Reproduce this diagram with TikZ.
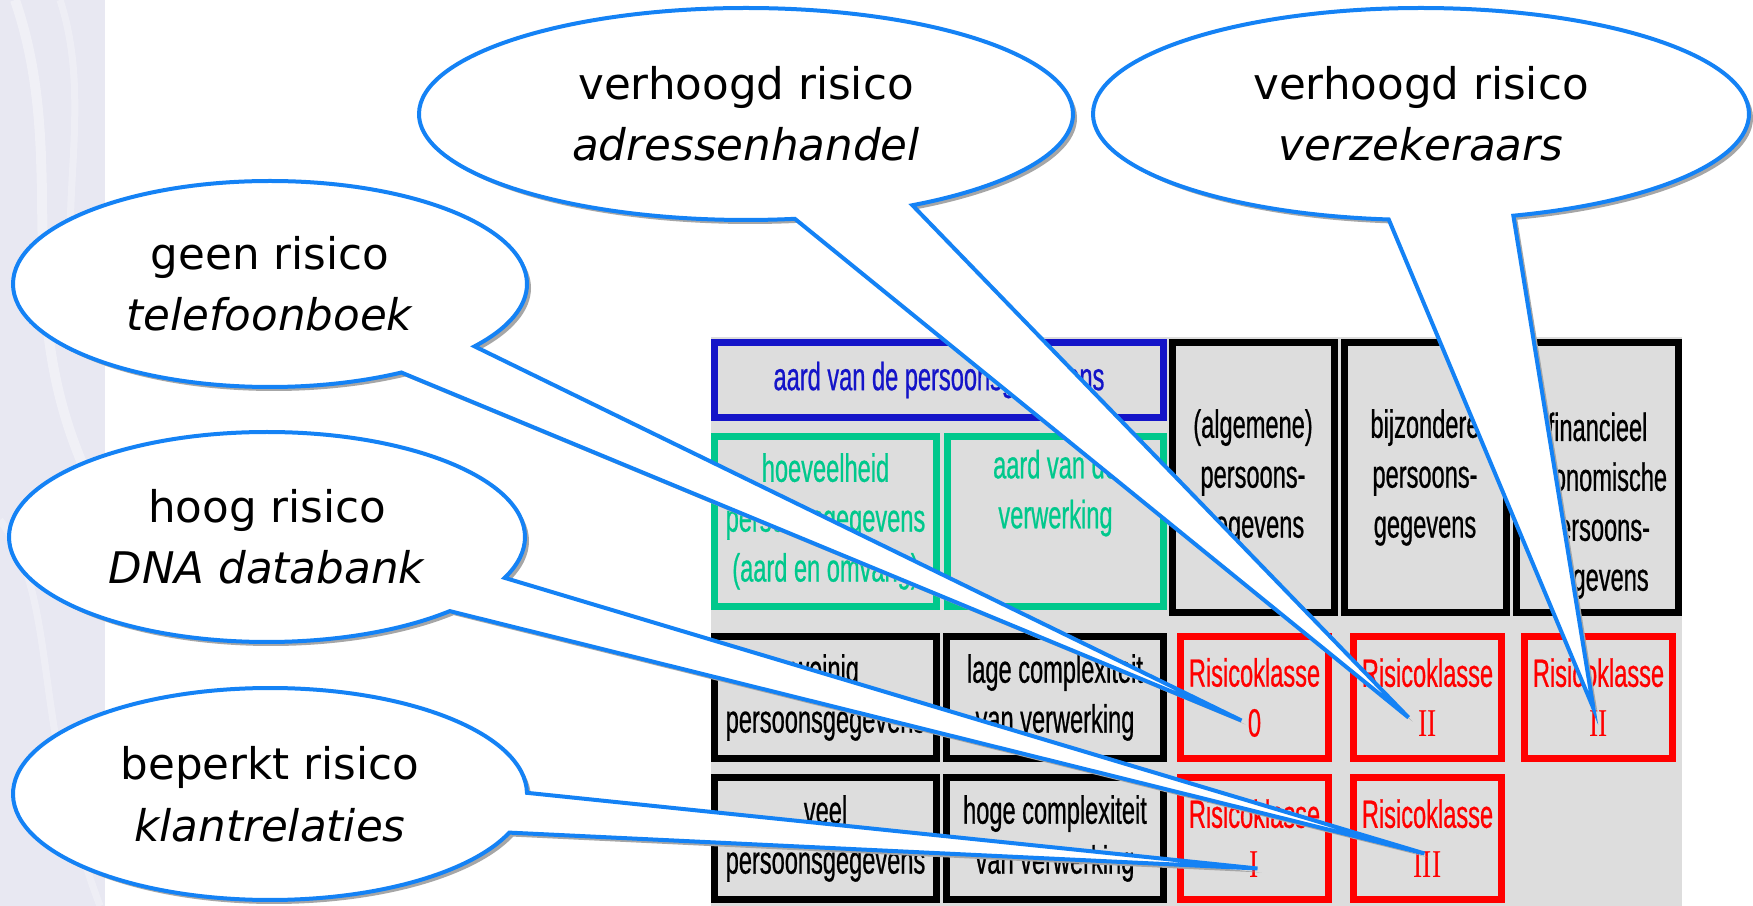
\documentclass[tikz,border=0pt]{standalone}
\usepackage{fontspec}
\usepackage{xcolor}
\usetikzlibrary{positioning, calc, shapes.callouts, shadows}
\newfontfamily\bubblefont{DejaVu Sans}
\newfontfamily\cellfont[FakeStretch=0.6, FakeBold=0.6]{Liberation Sans}
\newfontfamily\numfont[FakeStretch=0.7]{Liberation Serif}
\definecolor{bubble-blue}{RGB}{20,130,245}
\definecolor{table-grey}{RGB}{221,221,221}
\definecolor{head-blue}{RGB}{20,20,200}
\definecolor{head-green}{RGB}{0,200,140}
\definecolor{strip-grey}{RGB}{232,232,242}

\begin{document}
\begin{tikzpicture}[x=0.1mm, y=-0.1mm]
				\tikzset{cell/.style={draw, line width=0.7mm, fill=table-grey, align=center, inner sep=0pt, font=\cellfont\fontsize{11.2}{14.2}\selectfont, minimum height=12.2mm}}
				\tikzset{wide/.style={cell, minimum width=22.2mm}}
				\tikzset{klasse/.style={cell, draw=red, text=red, minimum width=14.8mm}}
				\tikzset{bubble/.style={ellipse callout, draw=bubble-blue, line width=0.4mm, fill=white, inner sep=0pt, callout pointer arc=22, align=center, font=\bubblefont\fontsize{12.4}{17.5}\selectfont, drop shadow={shadow xshift=0.4mm, shadow yshift=-0.4mm, fill=gray!70, opacity=1}}}
				\useasboundingbox[fill=white] (0,0) rectangle (1753,906);
				\fill[strip-grey] (0,0) rectangle (105,906);
				\draw[white, line width=1mm, opacity=0.35] (15,0) .. controls (70,160) and (10,300) .. (85,470);
				\draw[white, line width=0.7mm, opacity=0.3] (0,520) .. controls (60,600) and (30,720) .. (100,906);
				\draw[white, line width=0.7mm, opacity=0.3] (60,0) .. controls (100,120) and (40,260) .. (95,330);
				\fill[table-grey] (711,337) rectangle (1682,906);
				\node[cell, draw=head-blue, text=head-blue, minimum width=44.9mm, minimum height=7.5mm] (kind) at (939,380) {aard van de persoonsgegevens};
				\node[cell, draw=head-green, text=head-green, minimum width=22.2mm, minimum height=17mm] (amount) at (825.5,521.5) {hoeveelheid\\persoonsgegevens\\(aard en omvang)};
				\node[cell, draw=head-green, text=head-green, minimum width=21.6mm, minimum height=17mm, right=0.4mm of amount] (proc) {aard van de\\verwerking\\\strut};
				\node[cell, minimum width=16.2mm, minimum height=27mm] (general) at (1253,477.5) {(algemene)\\persoons-\\gegevens};
				\node[cell, minimum width=16.2mm, minimum height=27mm, right=0.3mm of general] (special) {bijzondere\\persoons-\\gegevens};
				\node[cell, minimum width=16.2mm, minimum height=27mm, right=0.35mm of special] (finance) {\strut\\financieel\\economische\\persoons-\\gegevens};
				\node[wide] (few) at (825.5,697.5) {weinig\\persoonsgegevens};
				\node[cell, minimum width=21.7mm, right=0.3mm of few] (low) {lage complexiteit\\van verwerking};
				\node[klasse, right=1mm of low] (k0) {Risicoklasse\\0};
				\node[klasse, right=1.8mm of k0] (k2a) {Risicoklasse\\{\numfont II}};
				\node[klasse, right=1.6mm of k2a] (k2b) {Risicoklasse\\{\numfont II}};
				\node[wide, below=1.2mm of few] (many) {veel\\persoonsgegevens};
				\node[cell, minimum width=21.7mm, right=0.3mm of many] (high) {hoge complexiteit\\van verwerking};
				\node[klasse, right=1mm of high] (k1) {Risicoklasse\\{\numfont I}};
				\node[klasse, right=1.8mm of k1] (k3) {Risicoklasse\\{\numfont III}};
				\coordinate (tip0) at ($(k0.center)+(-13,23)$);
				\coordinate (tip1) at ($(k1.center)+(3,30)$);
				\coordinate (tip2a) at ($(k2a.center)+(-19,20)$);
				\coordinate (tip2b) at ($(k2b.center)+(-5,11)$);
				\coordinate (tip3) at ($(k3.center)+(-3,15)$);
				\node[bubble, minimum width=65.4mm, minimum height=21.2mm, callout absolute pointer={(tip2a)}] (trade) at (746,114) {verhoogd risico\\\textit{adressenhandel}};
				\node[bubble, minimum width=65.6mm, minimum height=21.2mm, callout absolute pointer={(tip2b)}] (insurers) at (1421,114) {verhoogd risico\\\textit{verzekeraars}};
				\node[bubble, minimum width=51.4mm, minimum height=20.6mm, callout absolute pointer={(tip0)}] (phonebook) at (270,284) {geen risico\\\textit{telefoonboek}};
				\node[bubble, minimum width=51.6mm, minimum height=21mm, callout absolute pointer={(tip3)}] (dna) at (267,537) {hoog risico\\\textit{DNA databank}};
				\node[bubble, minimum width=51.4mm, minimum height=21.2mm, callout absolute pointer={(tip1)}] (clients) at (270,794) {beperkt risico\\\textit{klantrelaties}};
\end{tikzpicture}
\end{document}
